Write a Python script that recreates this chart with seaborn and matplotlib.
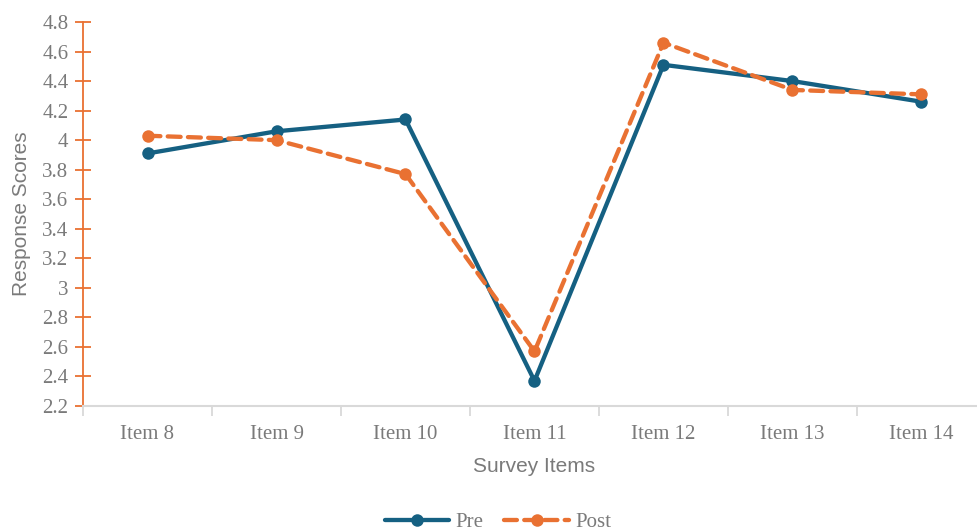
import matplotlib
matplotlib.use("Agg")
import matplotlib.pyplot as plt
from matplotlib.ticker import FuncFormatter, FixedLocator, MultipleLocator
from matplotlib.lines import Line2D
import seaborn as sns
import pandas as pd

items = ["Item 8", "Item 9", "Item 10", "Item 11", "Item 12", "Item 13", "Item 14"]
pre_scores = [3.91, 4.06, 4.14, 2.37, 4.51, 4.40, 4.26]
post_scores = [4.03, 4.00, 3.77, 2.57, 4.66, 4.34, 4.31]

PRE_COLOR = "#156082"
POST_COLOR = "#E97132"
TEXT_COLOR = "#7A7A7A"
AXIS_GRAY = "#D9D9D9"

df = pd.DataFrame({
    "Survey Items": items * 2,
    "Response Scores": pre_scores + post_scores,
    "Phase": ["Pre"] * len(items) + ["Post"] * len(items),
})

sns.set_theme(style="white")
serif = ["Liberation Serif", "DejaVu Serif"]
sans = ["Liberation Sans", "DejaVu Sans"]

fig = plt.figure(figsize=(9.77, 5.31), dpi=100)
ax = fig.add_axes([83 / 977, 125 / 531, 903 / 977, 384 / 531])

sns.lineplot(
    data=df, x="Survey Items", y="Response Scores",
    hue="Phase", style="Phase", sort=False, ax=ax,
    palette={"Pre": PRE_COLOR, "Post": POST_COLOR},
    dashes={"Pre": "", "Post": (3, 1.7)},
    markers={"Pre": "o", "Post": "o"},
    linewidth=3.1, markersize=9, markeredgewidth=0,
    legend=False,
)
for line in ax.lines:
    line.set_dash_capstyle("round")
    line.set_solid_capstyle("round")
    line.set_solid_joinstyle("round")
    line.set_dash_joinstyle("round")

ax.set_xlim(-0.5, len(items) - 0.5)
ax.set_ylim(2.2, 4.8)
ax.yaxis.set_major_locator(MultipleLocator(0.2))
ax.yaxis.set_major_formatter(FuncFormatter(lambda v, p: f"{round(v, 1):g}"))

# spines
for side in ("top", "right"):
    ax.spines[side].set_visible(False)
ax.spines["left"].set_color(POST_COLOR)
ax.spines["left"].set_linewidth(1.3)
ax.spines["bottom"].set_color(AXIS_GRAY)
ax.spines["bottom"].set_linewidth(1.5)

ax.tick_params(axis="y", direction="inout", length=11, width=1.3, color=POST_COLOR,
               labelsize=15, labelcolor=TEXT_COLOR, pad=5, left=True)
ax.tick_params(axis="x", which="major", length=0, labelsize=15,
               labelcolor=TEXT_COLOR, pad=14, bottom=True)
ax.xaxis.set_minor_locator(FixedLocator([i - 0.5 for i in range(len(items) + 1)]))
ax.tick_params(axis="x", which="minor", direction="out", length=7, width=1.3,
               color=AXIS_GRAY, bottom=True)
for lab in ax.get_xticklabels() + ax.get_yticklabels():
    lab.set_family(serif)

ax.set_xlabel("Survey Items", fontsize=15, color=TEXT_COLOR, family=sans, labelpad=9)
ax.set_ylabel("Response Scores", fontsize=15, color=TEXT_COLOR, family=sans, labelpad=8)
ax.grid(False)

handles = [
    Line2D([], [], color=PRE_COLOR, lw=3.1, marker="o", markersize=9, markeredgewidth=0),
    Line2D([], [], color=POST_COLOR, lw=3.1, ls=(0, (3, 1.7)), marker="o",
           markersize=9, markeredgewidth=0, dash_capstyle="round"),
]
leg = fig.legend(handles, ["Pre", "Post"], loc="center", bbox_to_anchor=(498 / 977, 9 / 531),
                 ncol=2, frameon=False, handlelength=3.1, columnspacing=1.0,
                 handletextpad=0.3, prop={"family": serif, "size": 15})
for t in leg.get_texts():
    t.set_color(TEXT_COLOR)

fig.savefig("out.png", dpi=100)
